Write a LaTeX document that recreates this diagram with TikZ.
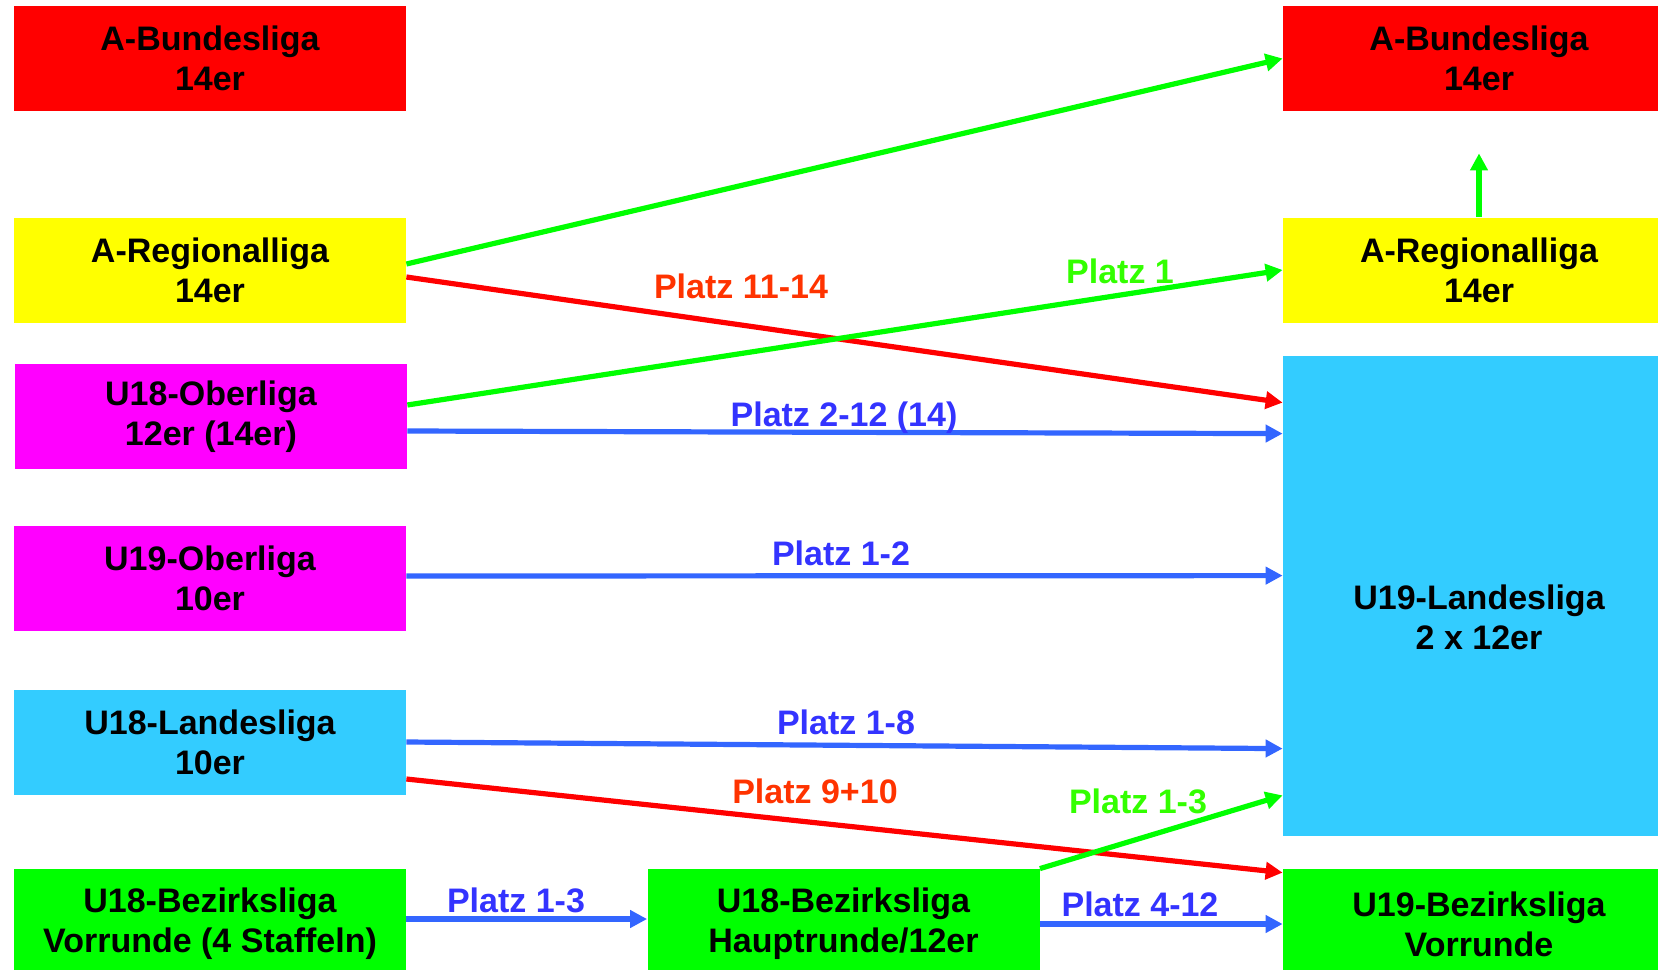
\documentclass[tikz,border=0pt]{standalone}
\usepackage{fontspec}
\setmainfont{Liberation Sans}
\usetikzlibrary{arrows.meta}
\definecolor{ligared}{HTML}{FF0000}
\definecolor{ligayellow}{HTML}{FFFF00}
\definecolor{ligamagenta}{HTML}{FF00FF}
\definecolor{ligacyan}{HTML}{33CCFF}
\definecolor{ligagreen}{HTML}{00FF00}
\definecolor{pblue}{HTML}{3366FF}
\definecolor{tblue}{HTML}{3333FF}
\definecolor{tred}{HTML}{FF3300}
\definecolor{tgreen}{HTML}{33FF00}
\newcommand\boxfont{\fontsize{17pt}{20pt}\selectfont\bfseries}
\tikzset{
	box/.style={rectangle,fill=#1,inner sep=0pt,align=center,font=\boxfont,minimum width=196pt,minimum height=52.5pt},
	pfeil/.style={draw=#1,line width=2.6pt,-{Triangle[length=8.5pt,width=8.5pt]}},
	platz/.style={text=#1,font=\boxfont,inner sep=0pt,text height=12.2pt,text depth=0pt}
}
\begin{document}
\begin{tikzpicture}[x=0.5pt,y=-0.5pt]
	\useasboundingbox (0,0) rectangle (1658,969);

	% linke Spalte
	\node [box=ligared] (abl) at (210,58.5) {A-Bundesliga\\14er};
	\node [box=ligayellow] (areg) at (210,270) {A-Regionalliga\\14er};
	\node [box=ligamagenta] (o18) at (211,416.5) {U18-Oberliga\\12er (14er)};
	\node [box=ligamagenta] (o19) at (210,578) {U19-Oberliga\\10er};
	\node [box=ligacyan] (l18) at (210,742) {U18-Landesliga\\10er};
	\node [box=ligagreen,minimum height=55pt] (bez18v) at (210,924) {U18-Bezirksliga\\Vorrunde (4 Staffeln)};
	\node [box=ligagreen,minimum height=55pt] (haupt) at (843.5,924) {U18-Bezirksliga\\Hauptrunde/12er};

	% rechte Spalte
	\node [box=ligared] (rbund) at (1479,58.5) {A-Bundesliga\\14er};
	\node [box=ligayellow] (rreg) at (1479,270) {A-Regionalliga\\14er};
	\node [box=ligacyan,minimum height=240pt] (l19) at (1479,596) {};
	\node [align=center,font=\boxfont,inner sep=0pt] (l19text) at (1479,617) {U19-Landesliga\\2 x 12er};
	\node [box=ligagreen,minimum height=55pt] (bez19) at (1479,924) {U19-Bezirksliga\\Vorrunde};

	\draw [pfeil=ligagreen] ([yshift=3pt]areg.east) -- (rbund.west);
	\draw [pfeil=ligared] ([yshift=-3.5pt]areg.east) -- ([yshift=-23.5pt]l19.north west);
	\draw [pfeil=ligagreen] ([yshift=5.75pt]o18.east) -- (rreg.west);
	\draw [pfeil=pblue] ([yshift=-7.25pt]o18.east) -- ([yshift=-39pt]l19.north west);
	\draw [pfeil=pblue] ([yshift=1pt]o19.east) -- ([yshift=-110pt]l19.north west);
	\draw [pfeil=pblue] (l18.east) -- ([yshift=-196.5pt]l19.north west);
	\draw [pfeil=ligared] ([yshift=-18.5pt]l18.east) -- ([yshift=-2pt]bez19.north west);
	\draw [pfeil=ligagreen] (haupt.north east) -- ([yshift=20.5pt]l19.south west);
	\draw [pfeil=pblue] ([yshift=2.5pt]bez18v.east) -- ([yshift=2.5pt]haupt.west);
	\draw [pfeil=pblue] (haupt.east) -- (bez19.west);
	\draw [pfeil=ligagreen] (rreg.north) -- ([yshift=-21pt]rbund.south);

	\node [platz=tred] (p1114) at (741,286) {Platz 11-14};
	\node [platz=tgreen] (p1) at (1120,271) {Platz 1};
	\node [platz=tblue] (p212) at (844,414) {Platz 2-12 (14)};
	\node [platz=tblue] (p12) at (841,553) {Platz 1-2};
	\node [platz=tblue] (p18) at (846,722) {Platz 1-8};
	\node [platz=tred] (p910) at (815,791) {Platz 9+10};
	\node [platz=tgreen] (p13h) at (1138,801) {Platz 1-3};
	\node [platz=tblue] (p13v) at (516,900) {Platz 1-3};
	\node [platz=tblue] (p412) at (1140,904) {Platz 4-12};
\end{tikzpicture}
\end{document}
